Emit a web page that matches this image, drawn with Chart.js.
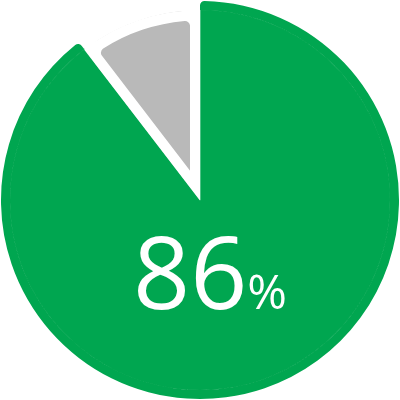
<!DOCTYPE html>
<html>
<head>
<meta charset="utf-8">
<script src="https://cdn.jsdelivr.net/npm/chart.js@4/dist/chart.umd.min.js"></script>
<style>
  html, body { margin: 0; padding: 0; background: #fff; }
  #wrap { position: relative; width: 400px; height: 400px; }
  #label {
    position: absolute;
    left: 133px;
    top: 220px;
    color: #fff;
    font-family: "Open Sans", sans-serif;
    font-size: 100px;
    line-height: 100px;
    white-space: nowrap;
  }
  #label .pct { font-size: 48px; }
</style>
</head>
<body>
<div id="wrap">
  <canvas id="pieChart"></canvas>
  <div id="label"><span id="value"></span><span class="pct">%</span></div>
</div>
<script>
const labels = ["Done", "Rest"];
const values = [86, 10];
const shownPercent = 86;

const green = "#00a650";
const gray = "#b9b9b9";

document.getElementById("value").textContent = shownPercent;

const ctx = document.getElementById("pieChart").getContext("2d");

new Chart(ctx, {
  type: "pie",
  data: {
    labels: labels,
    datasets: [
      {
        // thin outer ring: only the green part reaches the full radius
        data: values,
        weight: 9,
        backgroundColor: [green, "rgba(0,0,0,0)"],
        borderWidth: 0,
        borderRadius: { outerStart: 5, outerEnd: 5, innerStart: 0, innerEnd: 0 },
      },
      {
        data: values,
        weight: 190,
        backgroundColor: [green, gray],
        borderColor: [green, "#fff"],
        borderWidth: (c) => (c.dataIndex === 1 ? 10 : 1),
        borderAlign: (c) => (c.dataIndex === 1 ? "inner" : "center"),
        borderRadius: (c) => (c.dataIndex === 1 ? 15 : 0),
      },
    ],
  },
  options: {
    responsive: true,
    maintainAspectRatio: false,
    animation: false,
    events: [],
    layout: { padding: 1 },
    plugins: {
      legend: { display: false },
      tooltip: { enabled: false },
    },
  },
});
</script>
</body>
</html>
